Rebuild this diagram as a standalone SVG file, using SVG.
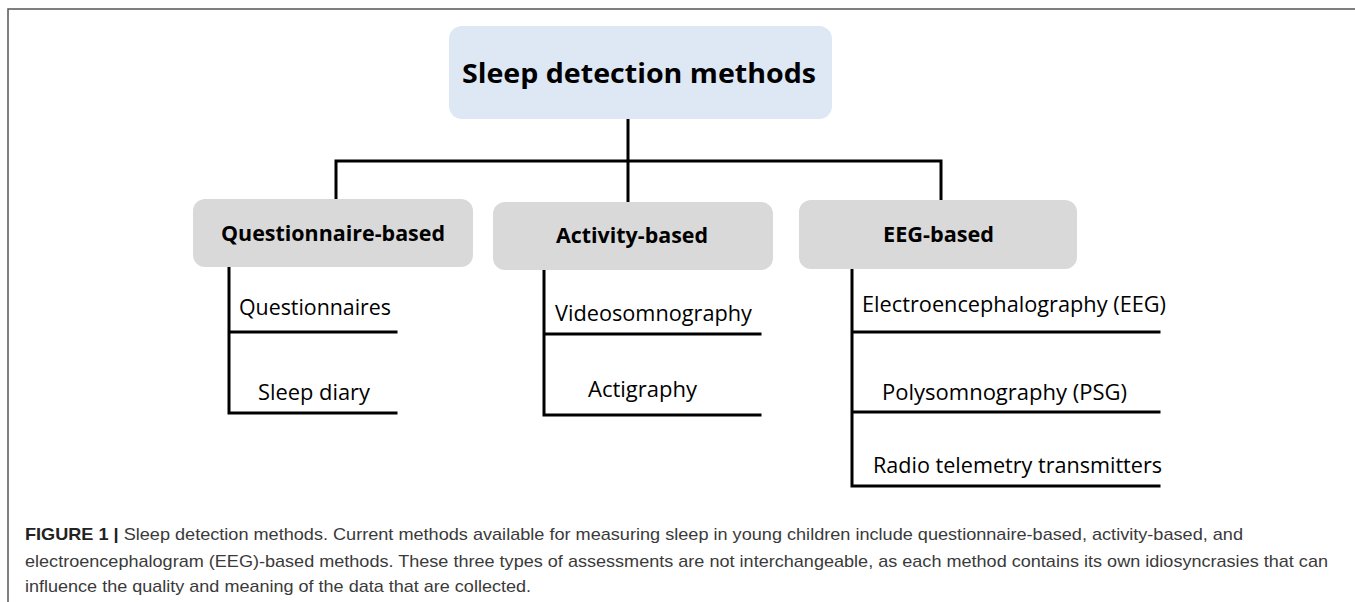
<svg xmlns="http://www.w3.org/2000/svg" width="1355" height="602" viewBox="0 0 1355 602">
<style>
.frame{fill:none;stroke:#555;stroke-width:1.5}
.title{fill:#dde8f4}
.cat{fill:#d9d9d9}
.ln{fill:none;stroke:#000;stroke-width:3;stroke-linecap:square}
.tt{font-family:"Open Sans","DejaVu Sans",sans-serif;font-weight:bold;font-size:26.5px;fill:#000}
.ct{font-family:"Open Sans","DejaVu Sans",sans-serif;font-weight:bold;font-size:22px;fill:#000}
.it{font-family:"Open Sans","DejaVu Sans",sans-serif;font-size:21.5px;fill:#000}
.cap{font-family:"Liberation Sans",Arial,sans-serif;font-size:17px;fill:#3a3a3a}
.capb{font-weight:bold;fill:#222}
</style>
<rect width="1355" height="602" fill="#fff"/>
<path class="frame" d="M8,602 V9 H1355"/>
<g id="connectors">
<path class="ln" d="M628,119 V202 M336,199 V161 H941 V200"/>
<path class="ln" d="M229,267 V413 H396 M229,332 H396"/>
<path class="ln" d="M544,270 V415 H760 M544,334 H760"/>
<path class="ln" d="M852,269 V486 H1159 M852,332 H1159 M852,412 H1159"/>
</g>
<g id="root">
<rect class="title" x="449" y="26" width="383" height="93" rx="13"/>
<text class="tt" x="462" y="83" textLength="354" lengthAdjust="spacingAndGlyphs">Sleep detection methods</text>
</g>
<g id="questionnaire-based">
<rect class="cat" x="193" y="199" width="280" height="68" rx="12"/>
<text class="ct" x="221" y="241" textLength="224" lengthAdjust="spacingAndGlyphs">Questionnaire-based</text>
</g>
<g id="activity-based">
<rect class="cat" x="493" y="202" width="280" height="68" rx="12"/>
<text class="ct" x="556" y="243" textLength="152" lengthAdjust="spacingAndGlyphs">Activity-based</text>
</g>
<g id="eeg-based">
<rect class="cat" x="799" y="200" width="278" height="69" rx="12"/>
<text class="ct" x="883" y="242" textLength="111" lengthAdjust="spacingAndGlyphs">EEG-based</text>
</g>
<g id="questionnaires"><text class="it" x="239" y="315" textLength="152" lengthAdjust="spacingAndGlyphs">Questionnaires</text></g>
<g id="sleep-diary"><text class="it" x="258" y="400" textLength="112" lengthAdjust="spacingAndGlyphs">Sleep diary</text></g>
<g id="videosomnography"><text class="it" x="555" y="321" textLength="197" lengthAdjust="spacingAndGlyphs">Videosomnography</text></g>
<g id="actigraphy"><text class="it" x="588" y="397" textLength="109" lengthAdjust="spacingAndGlyphs">Actigraphy</text></g>
<g id="eeg"><text class="it" x="862" y="312" textLength="304" lengthAdjust="spacingAndGlyphs">Electroencephalography (EEG)</text></g>
<g id="psg"><text class="it" x="882" y="400" textLength="245" lengthAdjust="spacingAndGlyphs">Polysomnography (PSG)</text></g>
<g id="radio"><text class="it" x="873" y="473" textLength="289" lengthAdjust="spacingAndGlyphs">Radio telemetry transmitters</text></g>
<g id="caption">
<text class="cap" x="25" y="540" textLength="1218" lengthAdjust="spacingAndGlyphs"><tspan class="capb">FIGURE 1 |</tspan> Sleep detection methods. Current methods available for measuring sleep in young children include questionnaire-based, activity-based, and</text>
<text class="cap" x="25" y="567" textLength="1303" lengthAdjust="spacingAndGlyphs">electroencephalogram (EEG)-based methods. These three types of assessments are not interchangeable, as each method contains its own idiosyncrasies that can</text>
<text class="cap" x="25" y="592" textLength="506" lengthAdjust="spacingAndGlyphs">influence the quality and meaning of the data that are collected.</text>
</g>
</svg>
